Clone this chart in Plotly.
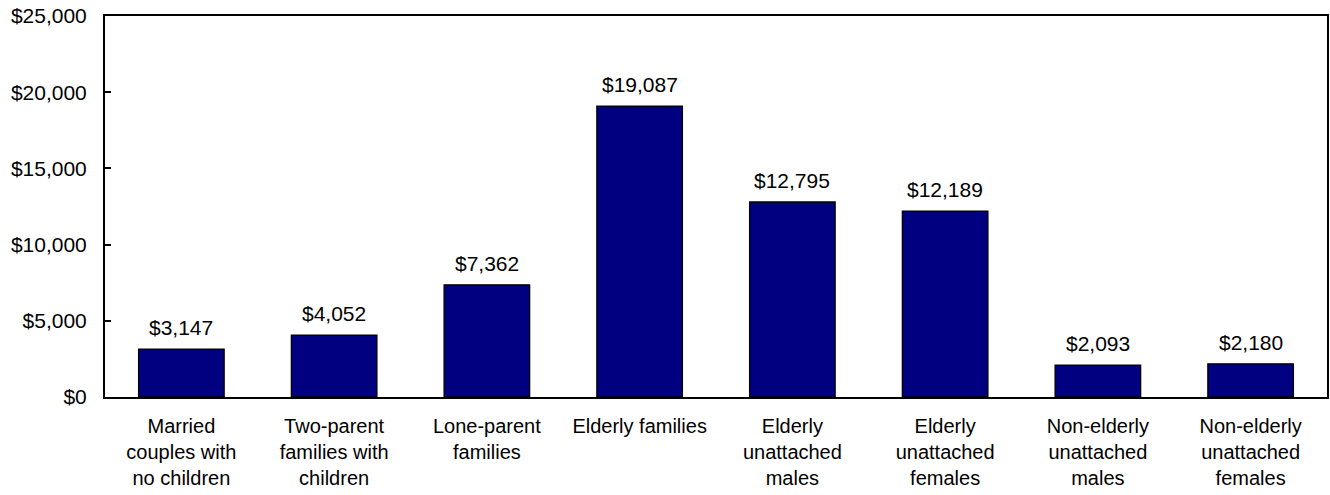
import plotly.graph_objects as go

categories = [
    "Married<br>couples with<br>no children",
    "Two-parent<br>families with<br>children",
    "Lone-parent<br>families",
    "Elderly families",
    "Elderly<br>unattached<br>males",
    "Elderly<br>unattached<br>females",
    "Non-elderly<br>unattached<br>males",
    "Non-elderly<br>unattached<br>females",
]
values = [3147, 4052, 7362, 19087, 12795, 12189, 2093, 2180]
y_ticks = [0, 5000, 10000, 15000, 20000, 25000]
y_tick_labels = ["$0", "$5,000", "$10,000", "$15,000", "$20,000", "$25,000"]

FONT = "Liberation Sans, Arial, sans-serif"

fig = go.Figure(
    go.Bar(
        x=categories,
        y=values,
        marker=dict(color="#000080", line=dict(color="#000000", width=1.3)),
        hoverinfo="skip",
    )
)

for cat, val in zip(categories, values):
    fig.add_annotation(
        x=cat, y=val, xref="x", yref="y",
        text=f"${val:,}",
        showarrow=False,
        yanchor="bottom",
        yshift=8,
        font=dict(family=FONT, size=21, color="#000000"),
    )

fig.update_layout(
    width=1330,
    height=495,
    margin=dict(l=105, r=1, t=16, b=98),
    paper_bgcolor="white",
    plot_bgcolor="white",
    bargap=0.44,
    showlegend=False,
    font=dict(family=FONT, size=20, color="#000000"),
)

fig.update_xaxes(
    showline=True, linecolor="#000000", linewidth=2, mirror=True,
    showgrid=False, ticks="",
    ticklabelstandoff=10,
    tickfont=dict(size=20, family=FONT, color="#000000"),
    fixedrange=True,
)
fig.update_yaxes(
    range=[0, 25000],
    tickvals=y_ticks, ticktext=y_tick_labels,
    showline=True, linecolor="#000000", linewidth=2, mirror=True,
    showgrid=False, zeroline=False,
    ticks="inside", ticklen=6, tickwidth=1.5, tickcolor="#000000",
    ticklabelstandoff=12,
    tickfont=dict(size=21, family=FONT, color="#000000"),
    fixedrange=True,
)

fig.write_html("out.html")
